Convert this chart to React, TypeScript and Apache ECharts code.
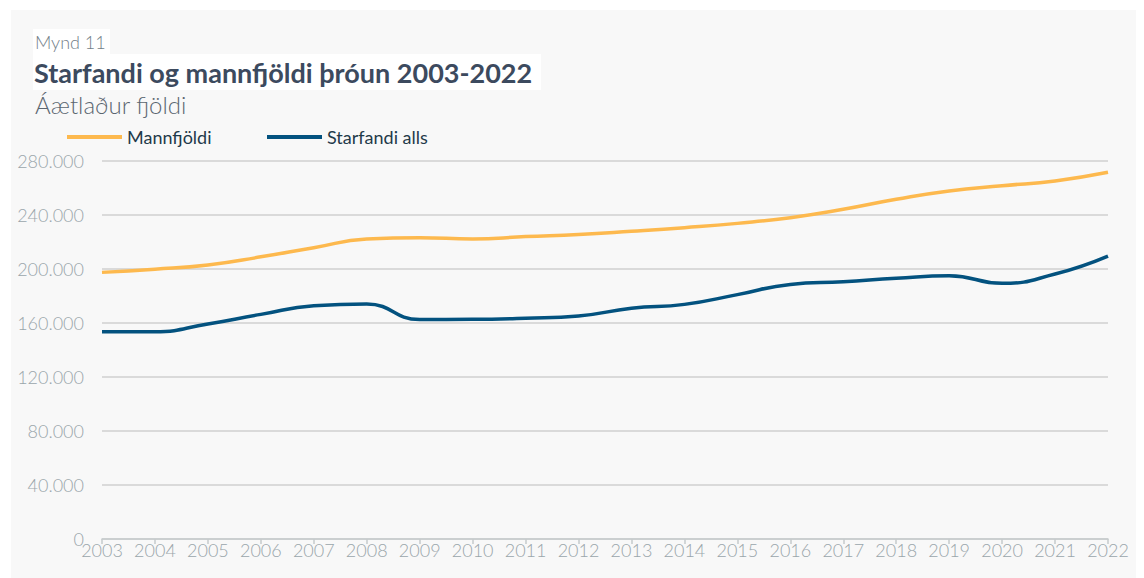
import React, { useEffect, useRef } from "react";
import * as echarts from "echarts";

const years = ["2003","2004","2005","2006","2007","2008","2009","2010","2011","2012","2013","2014","2015","2016","2017","2018","2019","2020","2021","2022"];
const mannfjoldi = [197500,199800,203000,209000,215800,222200,223200,222200,224000,225500,227900,230600,233800,238000,244200,251600,257800,261700,265200,271600];
const starfandi = [153600,153600,159300,166400,172800,174000,162600,162700,163500,165200,170900,173800,181000,188600,190600,193100,195000,189400,196300,209600];
const seriesNames = ["Mannfjöldi", "Starfandi alls"];
const figureLabel = "Mynd 11";
const titleText = "Starfandi og mannfjöldi þróun 2003-2022";
const subtitleText = "Áætlaður fjöldi";

const fmt = (v: number) => String(v).replace(/\B(?=(\d{3})+(?!\d))/g, ".");

export default function App() {
  const ref = useRef<HTMLDivElement>(null);
  useEffect(() => {
    if (!ref.current) return;
    const chart = echarts.init(ref.current, null, { renderer: "svg" });
    const font = "Lato, 'Noto Sans', sans-serif";
    chart.setOption({
      animation: false,
      backgroundColor: "#ffffff",
      textStyle: { fontFamily: font },
      graphic: [
        { type: "rect", silent: true, z: -10, shape: { x: 11, y: 10, width: 1125, height: 580 }, style: { fill: "#f8f8f8" } },
        { type: "rect", silent: true, z: -5, shape: { x: 33, y: 29, width: 77, height: 25 }, style: { fill: "#ffffff" } },
        { type: "rect", silent: true, z: -5, shape: { x: 33, y: 54, width: 508, height: 36 }, style: { fill: "#ffffff" } },
        { type: "text", x: 35, y: 42, style: { text: figureLabel, fontFamily: font, fontSize: 18, fontWeight: 300, fill: "#738089", textVerticalAlign: "middle" } },
        { type: "text", x: 34, y: 72, style: { text: titleText, fontFamily: font, fontSize: 27, fontWeight: "bold", fill: "#3c4a5e", textVerticalAlign: "middle" } },
        { type: "text", x: 35, y: 104, style: { text: subtitleText, fontFamily: font, fontSize: 24, fontWeight: 300, fill: "#5b6670", textVerticalAlign: "middle" } },
      ],
      legend: [
        { data: [seriesNames[0]], left: 67, top: 127, padding: 0, icon: "rect", itemWidth: 55, itemHeight: 4, textStyle: { fontFamily: font, fontSize: 18, color: "#1f3a4a", lineHeight: 20 } },
        { data: [seriesNames[1]], left: 267, top: 127, padding: 0, icon: "rect", itemWidth: 55, itemHeight: 4, textStyle: { fontFamily: font, fontSize: 18, color: "#1f3a4a", lineHeight: 20 } },
      ],
      grid: { left: 102, right: 36, top: 161, bottom: 39, containLabel: false },
      xAxis: {
        type: "category",
        data: years,
        boundaryGap: false,
        axisLine: { lineStyle: { color: "#c6cbcd", width: 1.5 } },
        axisTick: { length: 5, lineStyle: { color: "#c6cbcd", width: 1.5 } },
        axisLabel: { fontFamily: font, fontSize: 18, fontWeight: 300, color: "#9aa6ab", margin: 2, interval: 0 },
        splitLine: { show: false },
      },
      yAxis: {
        type: "value",
        min: 0,
        max: 280000,
        interval: 40000,
        axisLine: { show: false },
        axisTick: { show: false },
        axisLabel: { fontFamily: font, fontSize: 18, fontWeight: 300, color: "#9aa6ab", margin: 18, formatter: (v: number) => fmt(v) },
        splitLine: { lineStyle: { color: "#dadada", width: 2 } },
      },
      series: [
        { name: seriesNames[0], type: "line", data: mannfjoldi, smooth: 0.5, showSymbol: false, symbol: "none", lineStyle: { color: "#fdb94e", width: 3.5 }, itemStyle: { color: "#fdb94e" } },
        { name: seriesNames[1], type: "line", data: starfandi, smooth: 0.5, showSymbol: false, symbol: "none", lineStyle: { color: "#03527f", width: 3.5 }, itemStyle: { color: "#03527f" } },
      ],
    });
    return () => chart.dispose();
  }, []);
  return <div ref={ref} style={{ position: "fixed", left: 0, top: 0, width: 1144, height: 578 }} />;
}
